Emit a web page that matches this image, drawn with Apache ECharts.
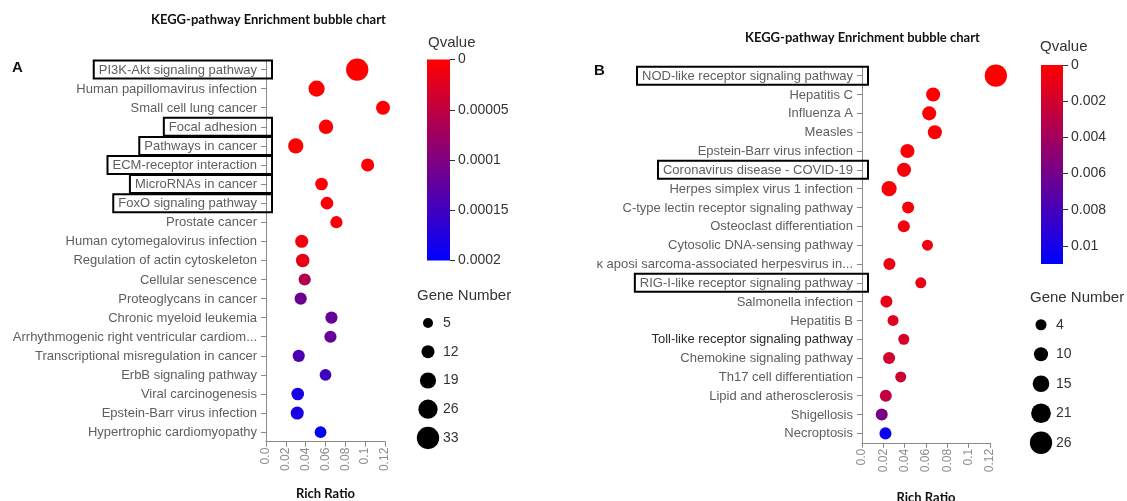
<!DOCTYPE html>
<html>
<head>
<meta charset="utf-8">
<script src="https://cdn.jsdelivr.net/npm/echarts@6/dist/echarts.min.js"></script>
<style>
  html, body { margin: 0; padding: 0; background: #ffffff; }
  #chart { width: 1127px; height: 501px; }
</style>
</head>
<body>
<div id="chart"></div>
<script>
// ---- Panel A: KEGG pathways ----
const leftPathways = [
  'PI3K-Akt signaling pathway', 'Human papillomavirus infection', 'Small cell lung cancer',
  'Focal adhesion', 'Pathways in cancer', 'ECM-receptor interaction', 'MicroRNAs in cancer',
  'FoxO signaling pathway', 'Prostate cancer', 'Human cytomegalovirus infection',
  'Regulation of actin cytoskeleton', 'Cellular senescence', 'Proteoglycans in cancer',
  'Chronic myeloid leukemia', 'Arrhythmogenic right ventricular cardiom...',
  'Transcriptional misregulation in cancer', 'ErbB signaling pathway', 'Viral carcinogenesis',
  'Epstein-Barr virus infection', 'Hypertrophic cardiomyopathy'
];
const leftRichRatio = [0.092, 0.051, 0.118, 0.0605, 0.030, 0.1025, 0.056, 0.0615, 0.071, 0.036,
  0.037, 0.039, 0.035, 0.066, 0.065, 0.033, 0.060, 0.032, 0.0315, 0.055];
const leftGeneNumber = [33, 19, 14, 15, 17, 12, 11, 11, 10, 12, 13, 10, 10, 10, 10, 10, 9, 11, 12, 9];
const leftQvalue = [0.0000001, 0.0000003, 0.0000006, 0.000001, 0.0000015, 0.000002, 0.000003,
  0.000004, 0.000006, 0.00001, 0.000018, 0.00006, 0.000115, 0.00012, 0.00012, 0.00014,
  0.00015, 0.00018, 0.00018, 0.000198];
const leftBoxed = ['PI3K-Akt signaling pathway', 'Focal adhesion', 'Pathways in cancer',
  'ECM-receptor interaction', 'MicroRNAs in cancer', 'FoxO signaling pathway'];
const leftQTicks = [0, 0.00005, 0.0001, 0.00015, 0.0002];
const leftQMax = 0.0002;
const leftSizeKeys = [5, 12, 19, 26, 33];

// ---- Panel B: KEGG pathways ----
const rightPathways = [
  'NOD-like receptor signaling pathway', 'Hepatitis C', 'Influenza A', 'Measles',
  'Epstein-Barr virus infection', 'Coronavirus disease - COVID-19',
  'Herpes simplex virus 1 infection', 'C-type lectin receptor signaling pathway',
  'Osteoclast differentiation', 'Cytosolic DNA-sensing pathway',
  'κ aposi sarcoma-associated herpesvirus in...', 'RIG-I-like receptor signaling pathway',
  'Salmonella infection', 'Hepatitis B', 'Toll-like receptor signaling pathway',
  'Chemokine signaling pathway', 'Th17 cell differentiation', 'Lipid and atherosclerosis',
  'Shigellosis', 'Necroptosis'
];
const rightRichRatio = [0.1255, 0.0667, 0.063, 0.0683, 0.0426, 0.0394, 0.0254, 0.0432, 0.0392,
  0.0614, 0.0257, 0.0551, 0.0229, 0.0291, 0.0392, 0.0254, 0.0363, 0.0223, 0.0185, 0.022];
const rightGeneNumber = [26, 10, 10, 10, 10, 10, 12, 6, 6, 4, 6, 4, 6, 4, 4, 6, 4, 6, 6, 6];
const rightQvalue = [0.00001, 0.00005, 0.0001, 0.00015, 0.0002, 0.00025, 0.0003, 0.0004, 0.0005,
  0.0006, 0.0007, 0.0008, 0.001, 0.0013, 0.0017, 0.002, 0.0021, 0.0027, 0.0058, 0.0105];
const rightBoxed = ['NOD-like receptor signaling pathway', 'Coronavirus disease - COVID-19',
  'RIG-I-like receptor signaling pathway'];
const rightDark = ['Toll-like receptor signaling pathway'];
const rightQTicks = [0, 0.002, 0.004, 0.006, 0.008, 0.01];
const rightQMax = 0.011;
const rightSizeKeys = [4, 10, 15, 21, 26];

const richTicks = [0, 0.02, 0.04, 0.06, 0.08, 0.1, 0.12];

const SANS = '"Liberation Sans", Arial, sans-serif';
const HEAD = 'Lato, "Liberation Sans", sans-serif';
const AXIS_GRAY = '#8a8a8a';
const LABEL_GRAY = '#5e5e5e';

function buildPanel(p, base) {
  const g = base * 3;            // grid indices: bubbles, colour bar, size key
  const size = n => p.sizeA + p.sizeB * n;
  const fixed = { outerBoundsMode: 'none', containLabel: false };
  const grids = [
    Object.assign({ left: p.plot.left, top: p.plot.top, width: p.plot.width, height: p.plot.height }, fixed),
    Object.assign({ left: p.bar.left, top: p.bar.top, width: p.bar.width, height: p.bar.height }, fixed),
    Object.assign({ left: p.key.left, top: p.key.top, width: 20, height: p.key.height }, fixed)
  ];
  const labelPad = [3, 15, 2, 5];
  const xAxes = [
    {
      gridIndex: g, type: 'value', min: 0, max: richTicks[richTicks.length - 1],
      interval: richTicks[1] - richTicks[0],
      axisLine: { show: true, lineStyle: { color: AXIS_GRAY, width: 1 } },
      axisTick: { show: true, length: 5, lineStyle: { color: AXIS_GRAY } },
      splitLine: { show: false },
      axisLabel: {
        rotate: 90, margin: 6, color: '#8c8c8c', fontFamily: SANS, fontSize: 12,
        formatter: v => (v === 0 ? '0.0' : String(Number(v.toFixed(2))))
      },
      name: 'Rich Ratio', nameLocation: 'middle', nameGap: p.nameGap,
      nameTextStyle: { fontFamily: HEAD, fontWeight: 'bold', fontSize: 13, color: '#111' }
    },
    { gridIndex: g + 1, type: 'category', data: ['Qvalue'], show: false },
    { gridIndex: g + 2, type: 'value', min: -1, max: 1, show: false }
  ];
  const yAxes = [
    {
      gridIndex: g, type: 'category', inverse: true, data: p.names,
      axisLine: { show: true, lineStyle: { color: AXIS_GRAY, width: 1 } },
      axisTick: { show: true, alignWithLabel: true, length: 5, lineStyle: { color: AXIS_GRAY } },
      splitLine: { show: false },
      axisLabel: {
        margin: -6, fontFamily: SANS, fontSize: 13, color: LABEL_GRAY, interval: 0,
        formatter: v => {
          if (p.boxed.indexOf(v) >= 0) return '{box|' + v + '}';
          if (p.dark.indexOf(v) >= 0) return '{dark|' + v + '}';
          return '{plain|' + v + '}';
        },
        rich: {
          plain: { padding: labelPad, color: LABEL_GRAY, fontFamily: SANS, fontSize: 13 },
          dark: { padding: labelPad, color: '#2a2a2a', fontFamily: SANS, fontSize: 13 },
          box: {
            padding: labelPad, color: LABEL_GRAY, fontFamily: SANS, fontSize: 13,
            borderColor: '#000', borderWidth: 2
          }
        }
      }
    },
    {
      gridIndex: g + 1, type: 'value', inverse: true, position: 'right', min: 0, max: p.qMax,
      axisLine: { show: false },
      axisTick: { show: true, length: 5, customValues: p.qTicks, lineStyle: { color: '#333' } },
      splitLine: { show: false },
      axisLabel: {
        customValues: p.qTicks, margin: 8, color: '#333', fontFamily: SANS, fontSize: 14,
        formatter: v => String(v)
      }
    },
    {
      gridIndex: g + 2, type: 'category', inverse: true, position: 'right',
      data: p.sizeKeys.map(String),
      axisLine: { show: false }, axisTick: { show: false }, splitLine: { show: false },
      axisLabel: { margin: 5, color: '#333', fontFamily: SANS, fontSize: 14 }
    }
  ];
  const series = [
    {
      type: 'scatter', xAxisIndex: g, yAxisIndex: g, clip: false,
      data: p.names.map((n, i) => [p.ratio[i], n, p.genes[i], p.q[i]]),
      symbolSize: v => size(v[2]),
      itemStyle: { opacity: 1 }
    },
    {
      type: 'bar', xAxisIndex: g + 1, yAxisIndex: g + 1, silent: true,
      data: [p.qMax], barWidth: '100%',
      itemStyle: {
        color: new echarts.graphic.LinearGradient(0, 0, 0, 1, [
          { offset: 0, color: '#ff0000' }, { offset: 1, color: '#0000ff' }
        ])
      }
    },
    {
      type: 'scatter', xAxisIndex: g + 2, yAxisIndex: g + 2, silent: true,
      data: p.sizeKeys.map(k => [0, String(k), k]),
      symbolSize: v => size(v[2]),
      itemStyle: { color: '#000', opacity: 1 }
    }
  ];
  const visualMap = {
    type: 'continuous', show: false, seriesIndex: base * 3, dimension: 3,
    min: 0, max: p.qMax, inRange: { color: ['#ff0000', '#0000ff'] }
  };
  return { grids, xAxes, yAxes, series, visualMap };
}

const panelA = buildPanel({
  names: leftPathways, ratio: leftRichRatio, genes: leftGeneNumber, q: leftQvalue,
  boxed: leftBoxed, dark: [], qTicks: leftQTicks, qMax: leftQMax, sizeKeys: leftSizeKeys,
  sizeA: 7.8, sizeB: 0.44, nameGap: 46,
  plot: { left: 266, top: 60, width: 119, height: 381.7 },
  bar: { left: 427, top: 59.5, width: 23, height: 201 },
  key: { left: 418, top: 308.6, height: 143.75 }
}, 0);

const panelB = buildPanel({
  names: rightPathways, ratio: rightRichRatio, genes: rightGeneNumber, q: rightQvalue,
  boxed: rightBoxed, dark: rightDark, qTicks: rightQTicks, qMax: rightQMax, sizeKeys: rightSizeKeys,
  sizeA: 8.95, sizeB: 0.514, nameGap: 49,
  plot: { left: 862, top: 66.3, width: 128, height: 376.5 },
  bar: { left: 1041, top: 65, width: 22, height: 199 },
  key: { left: 1031, top: 310, height: 147.5 }
}, 1);

const headStyle = { fontFamily: HEAD, fontWeight: 'bold', fontSize: 13, color: '#111' };
const legendTitle = { fontFamily: SANS, fontWeight: 'normal', fontSize: 15, color: '#333' };
const letterStyle = { fontFamily: SANS, fontWeight: 'bold', fontSize: 15, color: '#111' };

const option = {
  animation: false,
  backgroundColor: '#ffffff',
  title: [
    { text: 'KEGG-pathway Enrichment bubble chart', left: 151, top: 13, padding: 0, textStyle: headStyle },
    { text: 'KEGG-pathway Enrichment bubble chart', left: 745, top: 31, padding: 0, textStyle: headStyle },
    { text: 'A', left: 12, top: 60, padding: 0, textStyle: letterStyle },
    { text: 'B', left: 594, top: 63, padding: 0, textStyle: letterStyle },
    { text: 'Qvalue', left: 428, top: 35, padding: 0, textStyle: legendTitle },
    { text: 'Qvalue', left: 1040, top: 39, padding: 0, textStyle: legendTitle },
    { text: 'Gene Number', left: 417, top: 288, padding: 0, textStyle: legendTitle },
    { text: 'Gene Number', left: 1030, top: 290, padding: 0, textStyle: legendTitle }
  ],
  grid: panelA.grids.concat(panelB.grids),
  xAxis: panelA.xAxes.concat(panelB.xAxes),
  yAxis: panelA.yAxes.concat(panelB.yAxes),
  visualMap: [panelA.visualMap, panelB.visualMap],
  series: panelA.series.concat(panelB.series)
};

const chart = echarts.init(document.getElementById('chart'), null, { renderer: 'canvas' });
chart.setOption(option);
</script>
</body>
</html>
